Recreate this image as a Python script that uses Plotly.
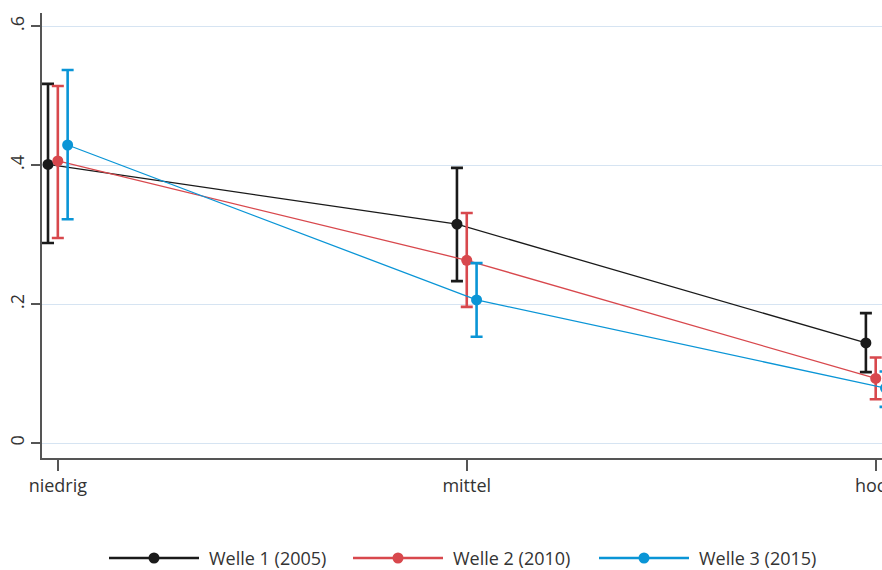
import plotly.graph_objects as go

categories = ["niedrig", "mittel", "hoch"]
series_names = ["Welle 1 (2005)", "Welle 2 (2010)", "Welle 3 (2015)"]
w1_mean = [0.401, 0.315, 0.144]
w1_lo = [0.288, 0.233, 0.102]
w1_hi = [0.517, 0.396, 0.187]
w2_mean = [0.406, 0.263, 0.093]
w2_lo = [0.295, 0.196, 0.063]
w2_hi = [0.514, 0.331, 0.123]
w3_mean = [0.429, 0.206, 0.079]
w3_lo = [0.322, 0.153, 0.052]
w3_hi = [0.537, 0.259, 0.103]
y_tickvals = [0, 0.2, 0.4, 0.6]
y_ticktext = ["0", ".2", ".4", ".6"]

colors = ["#1a1a1a", "#d8484d", "#0a95d6"]
offsets = [-0.024, 0.0, 0.024]
FONT = "Open Sans"
TXT = "#333333"

W, H = 882, 570
L, T, B = 42, 13, 112
PW, PH = W - L, H - T - B

fig = go.Figure()
data = [(w1_mean, w1_lo, w1_hi), (w2_mean, w2_lo, w2_hi), (w3_mean, w3_lo, w3_hi)]
for (m, lo, hi), c, off, name in zip(data, colors, offsets, series_names):
    xs = [i + off for i in range(len(categories))]
    fig.add_trace(go.Scatter(
        x=xs, y=m, mode="lines+markers", name=name,
        line=dict(color=c, width=1.3),
        marker=dict(color=c, size=11),
        error_y=dict(type="data", symmetric=False,
                     array=[h - v for h, v in zip(hi, m)],
                     arrayminus=[v - l for v, l in zip(m, lo)],
                     color=c, thickness=2.6, width=6),
        showlegend=False,
    ))

# custom legend with wide keys (positions in window px)
legend_y = 558
line_starts = [109, 353, 599]
def px_to_paper_x(px):
    return (px - L) / PW
def px_to_paper_y(py):
    return (T + PH - py) / PH

for c, x0, name in zip(colors, line_starts, series_names):
    cy = px_to_paper_y(legend_y)
    fig.add_shape(type="line", xref="paper", yref="paper",
                  x0=px_to_paper_x(x0), x1=px_to_paper_x(x0 + 90),
                  y0=cy, y1=cy, line=dict(color=c, width=2.6))
    cx = px_to_paper_x(x0 + 45)
    fig.add_shape(type="circle", xref="paper", yref="paper",
                  x0=cx - 5.5 / PW, x1=cx + 5.5 / PW,
                  y0=cy - 5.5 / PH, y1=cy + 5.5 / PH,
                  fillcolor=c, line=dict(color=c, width=0))
    fig.add_annotation(text=name, xref="paper", yref="paper",
                       x=px_to_paper_x(x0 + 98), y=cy, xanchor="left", yanchor="middle",
                       showarrow=False, font=dict(family=FONT, size=18, color=TXT))

fig.update_layout(
    width=W, height=H,
    margin=dict(l=L, r=0, t=T, b=B, autoexpand=False),
    paper_bgcolor="white", plot_bgcolor="white",
    font=dict(family=FONT, size=18, color=TXT),
    xaxis=dict(range=[-0.0387, 2.0154], tickvals=list(range(len(categories))),
               ticktext=categories, ticks="outside", ticklen=11, tickwidth=1.5,
               tickcolor="#555555", showgrid=False, zeroline=False,
               showline=True, linecolor="#555555", linewidth=1.5,
               ticklabeloverflow="allow",
               tickfont=dict(family=FONT, size=18, color=TXT)),
    yaxis=dict(range=[-0.0216, 0.619], tickvals=y_tickvals, ticktext=y_ticktext,
               tickangle=-90, ticks="outside", ticklen=9, tickwidth=1.5,
               tickcolor="#555555", showgrid=True, gridcolor="#d6e4f2", gridwidth=1.3,
               zeroline=False, showline=True, linecolor="#555555", linewidth=1.5,
               ticklabeloverflow="allow",
               tickfont=dict(family=FONT, size=18, color=TXT)),
)

fig.write_html("out.html", config={"displayModeBar": False},
               post_script="document.body.style.margin='0';document.body.style.overflow='hidden';")
